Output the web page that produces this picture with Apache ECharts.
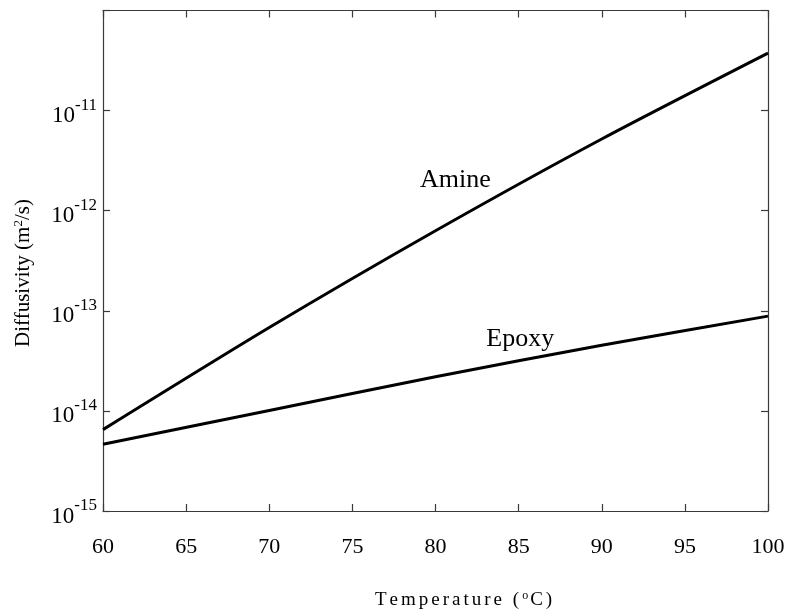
<!DOCTYPE html>
<html>
<head>
<meta charset="utf-8">
<script src="https://cdn.jsdelivr.net/npm/echarts@6/dist/echarts.min.js"></script>
<style>
  html, body { margin: 0; padding: 0; background: #fff; }
  #chart { width: 795px; height: 611px; }
</style>
</head>
<body>
<div id="chart"></div>
<script>
// Temperature (°C) at which diffusivity was read
const temps = [60, 70, 80, 90, 100];
// Diffusivity (m^2/s)
const amine = [6.5e-15, 6.8e-14, 6.3e-13, 5.2e-12, 3.75e-11];
const epoxy = [4.65e-15, 1.01e-14, 2.19e-14, 4.53e-14, 8.85e-14];
// Axis ranges
const xTicks = [60, 65, 70, 75, 80, 85, 90, 95, 100];
const yMin = 1e-15, yMax = 1e-10;
// Curve labels: [name, temperature, diffusivity]
const curveLabels = [['Amine', 81.2, 2.03e-12], ['Epoxy', 85.1, 5.2e-14]];

const FONT = '"Liberation Serif", "DejaVu Serif", serif';
const AXIS_COLOR = '#3a3a3a';

const chart = echarts.init(document.getElementById('chart'), null, { renderer: 'canvas' });

function pairs(xs, ys) { return xs.map((x, i) => [x, ys[i]]); }

// Rich-text string that spaces out the letters of a caption a little
function spaced(str, key) {
  return Array.from(str).map(ch => '{' + key + '|' + ch + '}').join('');
}

function frameAxis(extra) {
  return Object.assign({
    axisLine: { show: true, lineStyle: { color: AXIS_COLOR, width: 1.2 } },
    axisTick: { show: true, inside: true, length: 7, lineStyle: { color: AXIS_COLOR, width: 1.2 } },
    splitLine: { show: false },
    minorTick: { show: false }
  }, extra);
}

const labelSeries = (name, t, v) => ({
  name: name,
  type: 'scatter',
  data: [[t, v]],
  symbolSize: 1,
  itemStyle: { color: 'rgba(255,255,255,0)' },
  silent: true,
  z: 5,
  label: {
    show: true, position: 'inside', formatter: name,
    color: '#000', fontFamily: FONT, fontSize: 26,
    textBorderWidth: 0, opacity: 1
  }
});

const option = {
  backgroundColor: '#fff',
  animation: false,
  grid: { left: 103, top: 10.5, width: 665, height: 500.5, containLabel: false },
  xAxis: [
    frameAxis({
      type: 'value', position: 'bottom', min: 60, max: 100, interval: 5,
      axisLabel: {
        show: true, margin: 25, color: '#000', fontFamily: FONT, fontSize: 22,
        formatter: v => xTicks.includes(v) ? String(v) : ''
      }
    }),
    frameAxis({
      type: 'value', position: 'top', min: 60, max: 100, interval: 5,
      axisLabel: { show: false }
    })
  ],
  yAxis: [
    frameAxis({
      type: 'log', logBase: 10, position: 'left', min: yMin, max: yMax,
      axisLabel: {
        show: true, margin: 6, color: '#000',
        formatter: v => {
          const e = Math.round(Math.log10(v));
          if (e === -10) return '';
          return '{b|10}{s|' + e + '}';
        },
        rich: {
          // base sits low, exponent raised above it
          b: { fontFamily: FONT, fontSize: 23, verticalAlign: 'bottom', padding: [11, 0, 0, 0] },
          s: { fontFamily: FONT, fontSize: 17, verticalAlign: 'top', padding: [3, 0, 14, 0] }
        }
      }
    }),
    frameAxis({
      type: 'log', logBase: 10, position: 'right', min: yMin, max: yMax,
      axisLabel: { show: false }
    })
  ],
  series: [
    {
      name: 'Amine', type: 'line', data: pairs(temps, amine),
      showSymbol: false, smooth: 0.25,
      lineStyle: { color: '#000', width: 3 }
    },
    {
      name: 'Epoxy', type: 'line', data: pairs(temps, epoxy),
      showSymbol: false, smooth: 0.25,
      lineStyle: { color: '#000', width: 3 }
    }
  ].concat(curveLabels.map(l => labelSeries(l[0], l[1], l[2]))),
  graphic: [
    {
      type: 'text', left: 375, top: 590,
      style: {
        text: spaced('Temperature (', 'c') + '{o|o}' + spaced('C)', 'c'),
        fill: '#000',
        rich: {
          c: { fontFamily: FONT, fontSize: 19, padding: [0, 3, 0, 0] },
          o: { fontFamily: FONT, fontSize: 12, verticalAlign: 'top', padding: [0, 2, 9, 0] }
        }
      }
    },
    {
      type: 'text', x: 23, y: 273, rotation: Math.PI / 2,
      style: {
        text: 'Diffusivity (m{t|2}/s)',
        fontFamily: FONT, fontSize: 21, fill: '#000',
        align: 'center', verticalAlign: 'middle',
        rich: { t: { fontFamily: FONT, fontSize: 13, verticalAlign: 'top', padding: [0, 0, 9, 0] } }
      }
    }
  ]
};

chart.setOption(option);
</script>
</body>
</html>
